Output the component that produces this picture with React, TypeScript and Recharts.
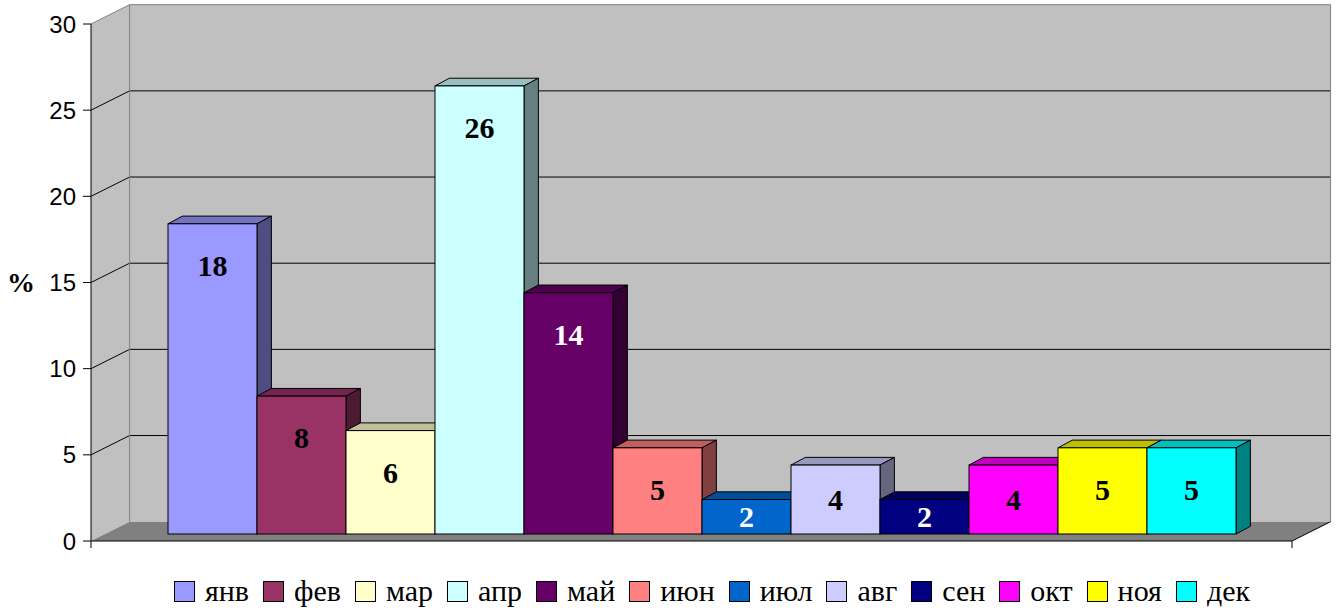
import { BarChart, Bar, XAxis, YAxis, CartesianGrid, Legend } from 'recharts';

const months = ['янв', 'фев', 'мар', 'апр', 'май', 'июн', 'июл', 'авг', 'сен', 'окт', 'ноя', 'дек'];
const percents = [18, 8, 6, 26, 14, 5, 2, 4, 2, 4, 5, 5];
const colors = [
  '#9999FF', '#993366', '#FFFFCC', '#CCFFFF', '#660066', '#FF8080',
  '#0066CC', '#CCCCFF', '#000080', '#FF00FF', '#FFFF00', '#00FFFF',
];
const labelColors = ['#000', '#000', '#000', '#000', '#fff', '#000', '#fff', '#000', '#fff', '#000', '#000', '#000'];
const yTicks = [0, 5, 10, 15, 20, 25, 30];

// one category, each month is its own series (like the Excel original)
const row: Record<string, string | number> = { name: '' };
months.forEach((m, i) => {
  row[m] = percents[i];
});
const data = [row];

// 3D offsets
const WALL_DX = 38.6;
const WALL_DY = -19.3;
const BAR_DX = 11;
const BAR_DY = -7;
const DEPTH_DX = 14.4;
const DEPTH_DY = -7.7;

const serif = '"Liberation Serif", "Times New Roman", serif';
const sans = '"Liberation Sans", Arial, sans-serif';

function shade(hex: string, k: number) {
  const n = parseInt(hex.slice(1), 16);
  const r = Math.round(((n >> 16) & 255) * k);
  const g = Math.round(((n >> 8) & 255) * k);
  const b = Math.round((n & 255) * k);
  return `rgb(${r},${g},${b})`;
}

// back wall, side wall, floor and gridlines, built from the grid's own tick positions
const renderWalls = (props: any) => {
  const { index, x1, x2, horizontalPoints } = props;
  if (index !== 0) return null;
  const pts: number[] = [...horizontalPoints].sort((a: number, b: number) => a - b);
  const top = pts[0];
  const bottom = pts[pts.length - 1];
  const L = x1;
  const R = x2;
  const bx = WALL_DX;
  const by = WALL_DY;
  return (
    <g key="walls">
      <polygon
        points={`${L},${bottom} ${L},${top} ${L + bx},${top + by} ${L + bx},${bottom + by}`}
        fill="#c0c0c0"
      />
      <rect x={L + bx} y={top + by} width={R - L} height={bottom - top} fill="#c0c0c0" />
      <polygon
        points={`${L},${bottom} ${L + bx},${bottom + by} ${R + bx},${bottom + by} ${R},${bottom}`}
        fill="#808080"
      />
      {pts
        .filter((p) => p > top + 0.5 && p < bottom - 0.5)
        .map((p) => (
          <g key={p}>
            <line x1={L} y1={p} x2={L + bx} y2={p + by} stroke="#000" strokeWidth={1} />
            <line x1={L + bx} y1={p + by} x2={R + bx} y2={p + by} stroke="#000" strokeWidth={1} />
          </g>
        ))}
      <line x1={L} y1={top} x2={L + bx} y2={top + by} stroke="#808080" />
      <line x1={L + bx} y1={top + by} x2={R + bx} y2={top + by} stroke="#808080" />
      <line x1={R + bx} y1={top + by} x2={R + bx} y2={bottom + by} stroke="#808080" />
      <line x1={L + bx} y1={top + by} x2={L + bx} y2={bottom + by} stroke="#808080" />
      <line x1={L} y1={bottom} x2={R} y2={bottom} stroke="#000" />
      <line x1={R} y1={bottom} x2={R + bx} y2={bottom + by} stroke="#000" />
      <line x1={L} y1={bottom} x2={L} y2={bottom + 7} stroke="#000" />
      <line x1={R} y1={bottom} x2={R} y2={bottom + 7} stroke="#000" />
    </g>
  );
};

// 3D box for series i
const makeBox = (i: number) => (props: any) => {
  const { x, y, width, height } = props;
  const fx = x + BAR_DX;
  const fy = y + BAR_DY;
  const c = colors[i];
  const ly = fy + Math.min(height / 2, 42);
  return (
    <g>
      <polygon
        points={`${fx},${fy} ${fx + DEPTH_DX},${fy + DEPTH_DY} ${fx + width + DEPTH_DX},${fy + DEPTH_DY} ${fx + width},${fy}`}
        fill={shade(c, 0.75)}
        stroke="#000"
      />
      <polygon
        points={`${fx + width},${fy} ${fx + width + DEPTH_DX},${fy + DEPTH_DY} ${fx + width + DEPTH_DX},${fy + height + DEPTH_DY} ${fx + width},${fy + height}`}
        fill={shade(c, 0.5)}
        stroke="#000"
      />
      <rect x={fx} y={fy} width={width} height={height} fill={c} stroke="#000" />
      <text
        x={fx + width / 2}
        y={ly}
        dy="0.34em"
        textAnchor="middle"
        fill={labelColors[i]}
        style={{ fontFamily: serif, fontSize: 30, fontWeight: 'bold' }}
      >
        {percents[i]}
      </text>
    </g>
  );
};

const renderLegend = (props: any) => {
  const items = [...(props.payload ?? [])].sort(
    (a: any, b: any) => months.indexOf(a.value) - months.indexOf(b.value)
  );
  return (
    <div
      style={{
        height: 65,
        boxSizing: 'border-box',
        paddingTop: 35,
        paddingLeft: 174,
        display: 'flex',
        alignItems: 'flex-start',
      }}
    >
      {items.map((it: any) => (
        <div key={it.value} style={{ display: 'flex', alignItems: 'center', marginRight: 14 }}>
          <span
            style={{
              display: 'inline-block',
              width: 19,
              height: 19,
              border: '1px solid #000',
              background: it.color,
              marginRight: 10,
            }}
          />
          <span style={{ fontFamily: serif, fontSize: 30, lineHeight: '30px', color: '#000' }}>
            {it.value}
          </span>
        </div>
      ))}
    </div>
  );
};

export default function App() {
  return (
    <div style={{ position: 'absolute', left: 0, top: 0, width: 1340, height: 614, background: '#fff' }}>
      <BarChart
        width={1340}
        height={614}
        data={data}
        margin={{ top: 24, right: 48, left: 0, bottom: 8 }}
        barCategoryGap={66}
        barGap={0}
      >
        <CartesianGrid horizontal={renderWalls} vertical={false} fill="none" stroke="none" />
        <XAxis dataKey="name" hide />
        <YAxis
          width={91}
          domain={[0, 30]}
          ticks={yTicks}
          interval={0}
          tickSize={8}
          tickMargin={7}
          axisLine={{ stroke: '#000' }}
          tickLine={{ stroke: '#000' }}
          tick={{ fill: '#000', fontSize: 24, fontFamily: sans }}
          label={{
            value: '%',
            position: 'insideLeft',
            offset: 7,
            style: { fontFamily: serif, fontSize: 28, fontWeight: 'bold', fill: '#000' },
          }}
        />
        <Legend
          verticalAlign="bottom"
          content={renderLegend}
          wrapperStyle={{ left: 0, width: 1340 }}
        />
        {months.map((m, i) => (
          <Bar
            key={m}
            dataKey={m}
            name={m}
            fill={colors[i]}
            shape={makeBox(i)}
            isAnimationActive={false}
          />
        ))}
      </BarChart>
    </div>
  );
}
